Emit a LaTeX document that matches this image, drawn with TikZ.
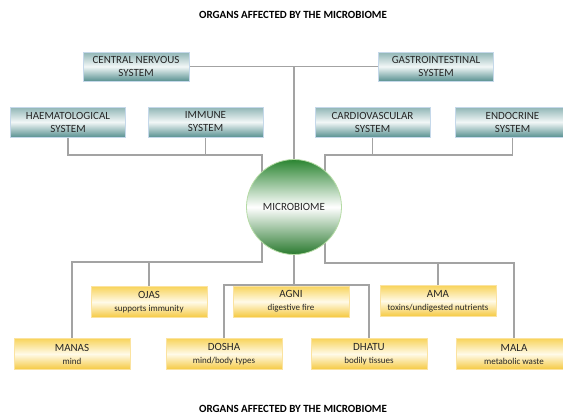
\documentclass[tikz,border=0pt]{standalone}
\usepackage{fontspec}
\setmainfont{Carlito}
\usepackage{tikz}
\usetikzlibrary{positioning, backgrounds}
\usepackage{xcolor}
\definecolor{tealtop}{HTML}{8FB5B5}
\definecolor{tealmid}{HTML}{F2F7F7}
\definecolor{tealbot}{HTML}{5A9292}
\definecolor{tealedge}{HTML}{C5D8EA}
\definecolor{goldtop}{HTML}{F8D45C}
\definecolor{goldmid}{HTML}{FFFAE8}
\definecolor{goldbot}{HTML}{F5C940}
\definecolor{goldedge}{HTML}{FBE3A0}
\definecolor{greentop}{HTML}{2B8531}
\definecolor{greenmid}{HTML}{FFFFFF}
\definecolor{greenbot}{HTML}{2A7A2F}
\definecolor{greenedge}{HTML}{B5DBA5}
\definecolor{linkgray}{HTML}{A3A3A3}
\definecolor{textgray}{HTML}{262626}

\begin{document}
\begin{tikzpicture}[x=1pt,y=-1pt,on grid,font=\fontsize{11}{13}\selectfont]
    \tikzstyle{organ}=[shape=rectangle,draw=tealedge,line width=0.6pt,top color=tealtop,bottom color=tealbot,middle color=tealmid,minimum width=115pt,minimum height=30pt,inner sep=0pt,align=center,text=textgray]
    \tikzstyle{ayur}=[shape=rectangle,draw=goldedge,line width=0.6pt,top color=goldtop,bottom color=goldbot,middle color=goldmid,minimum width=116pt,minimum height=31pt,inner sep=0pt,align=center,text=textgray]
    \tikzstyle{biome}=[shape=circle,draw=greenedge,line width=0.8pt,top color=greentop,bottom color=greenbot,middle color=greenmid,minimum size=95pt,inner sep=0pt,text=textgray]
    \tikzstyle{link}=[draw=linkgray,line width=1.3pt]
    \tikzstyle{heading}=[font=\fontsize{11}{13}\selectfont\bfseries,text=black]
    \newcommand{\sub}[1]{{\fontsize{9}{10.5}\selectfont #1}}

    \useasboundingbox (0,0) rectangle (563,416);

    \node[heading] (toptitle) at (293,15) {ORGANS AFFECTED BY THE MICROBIOME};
    \node[heading] (bottitle) at (293,409) {ORGANS AFFECTED BY THE MICROBIOME};

    \node[biome] (micro) at (294,207) {MICROBIOME};

    \node[organ, minimum width=106pt, minimum height=29pt] (cns) at (136,66.5) {CENTRAL NERVOUS\\SYSTEM};
    \node[organ, minimum height=29pt] (gastro) at (436,66.5) {GASTROINTESTINAL\\SYSTEM};
    \node[organ] (haem) at (68,122) {HAEMATOLOGICAL\\SYSTEM};
    \node[organ, right=137.5pt of haem] (immune) {IMMUNE\\SYSTEM};
    \node[organ] (cardio) at (372.5,122) {CARDIOVASCULAR\\SYSTEM};
    \node[organ, right=140pt of cardio] (endo) {ENDOCRINE\\SYSTEM};

    \node[ayur] (ojas) at (149,302) {OJAS\\\sub{supports immunity}};
    \node[ayur] (agni) at (291,301.5) {AGNI\\\sub{digestive fire}};
    \node[ayur] (ama) at (438,301) {AMA\\\sub{toxins/undigested nutrients}};
    \node[ayur] (manas) at (72,354) {MANAS\\\sub{mind}};
    \node[ayur, right=152pt of manas] (dosha) {DOSHA\\\sub{mind/body types}};
    \node[ayur, right=145pt of dosha] (dhatu) {DHATU\\\sub{bodily tissues}};
    \node[ayur, right=145pt of dhatu] (mala) {MALA\\\sub{metabolic waste}};

    \coordinate (top) at (294,66.5);
    \coordinate (ul) at (262,155);
    \coordinate (ur) at (325,155);
    \coordinate (ll) at (262,262);
    \coordinate (lr) at (325,263);
    \coordinate (lc) at (294,285);

    \begin{scope}[on background layer]
    \path[link]
    (cns) -- (gastro)
    (top) -- (micro)
    (haem.south) |- (ul) -- (ul |- micro)
    (immune.south) -- (immune.south |- ul)
    (endo.south) |- (ur) -- (ur |- micro)
    (cardio.south) -- (cardio.south |- ur)
    (ll |- micro) -- (ll) -| (manas.north)
    (ojas.north) -- (ojas.north |- ll)
    (lr |- micro) -- (lr) -| (mala.north)
    (ama.north) -- (ama.north |- lr)
    (micro) -- (lc)
    (dosha.north) |- (lc) -| (dhatu.north)
    ;
    \end{scope}
\end{tikzpicture}
\end{document}
